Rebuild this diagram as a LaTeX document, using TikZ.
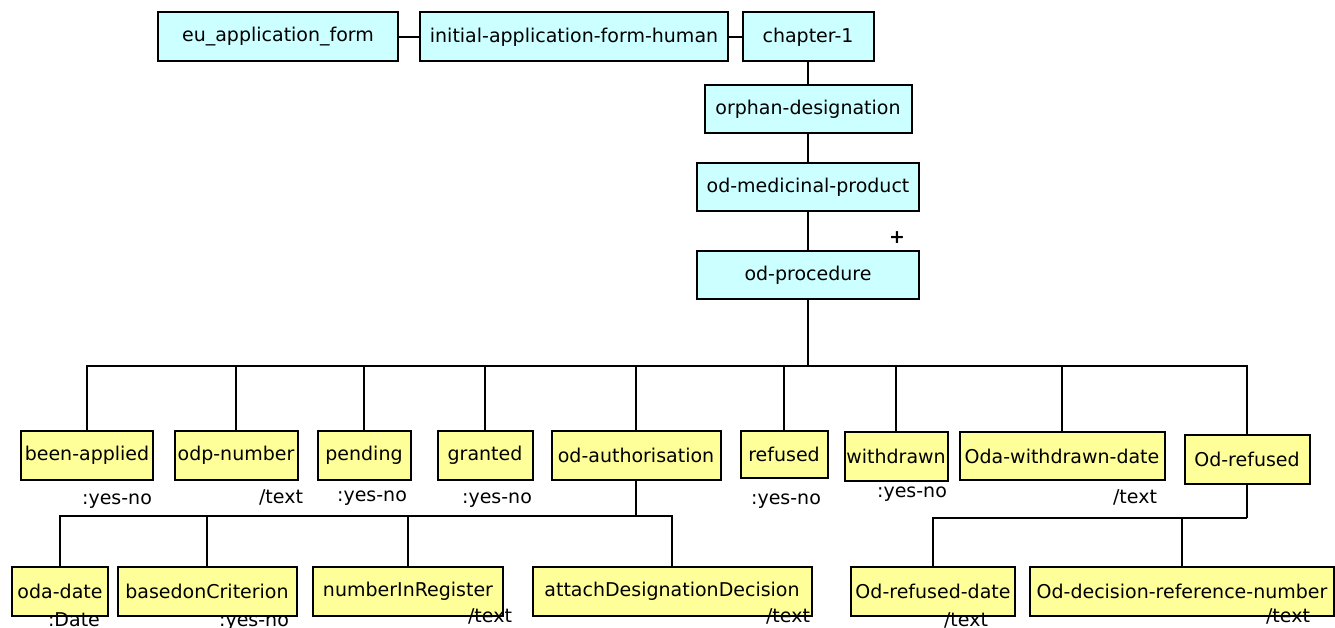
\documentclass[tikz,border=0pt]{standalone}
\usepackage{fontspec}
\setmainfont{DejaVu Sans}
\definecolor{boxcyan}{HTML}{CCFFFF}
\definecolor{boxyellow}{HTML}{FFFF99}
\begin{document}
\begin{tikzpicture}[x=1pt,y=-1pt,
  box/.style={draw=black, line width=2pt, inner sep=0pt, minimum height=49pt, font=\fontsize{19}{19}\selectfont, anchor=center},
  cbox/.style={box, fill=boxcyan},
  ybox/.style={box, fill=boxyellow},
  lab/.style={font=\fontsize{19}{19}\selectfont, inner sep=0pt, anchor=base},
  conn/.style={draw=black, line width=2pt},
  thick conn/.style={draw=black, line width=2.8pt}]
\useasboundingbox (0,0) rectangle (1335,628);
% top row
\node[cbox, minimum width=240pt] (eu) at (278,37) {eu\_application\_form};
\node[cbox, minimum width=308pt] (iafh) at (574,37) {initial-application-form-human};
\node[cbox, minimum width=131pt] (ch) at (808,37) {chapter-1};
\node[cbox, minimum width=207pt, minimum height=48pt] (orph) at (808,109) {orphan-designation};
\node[cbox, minimum width=222pt, minimum height=48pt] (odmp) at (808,187) {od-medicinal-product};
\node[cbox, minimum width=222pt, minimum height=48pt] (odp) at (808,275) {od-procedure};
\node[font=\fontsize{19}{19}\selectfont\bfseries, inner sep=0pt] (plus) at (897,238) {+};
\draw[conn] (eu) -- (iafh);
\draw[conn] (iafh) -- (ch);
\draw[conn] (ch.south) -- (ch.south |- orph.north);
\draw[conn] (orph.south) -- (orph.south |- odmp.north);
\draw[conn] (odmp.south) -- (odmp.south |- odp.north);
% first level children
\node[ybox, minimum width=132pt] (ba) at (87,455) {been-applied};
\node[ybox, minimum width=123pt] (odpn) at (236,455.5) {odp-number};
\node[ybox, minimum width=93pt] (pend) at (364,455.5) {pending};
\node[ybox, minimum width=95pt] (gran) at (485,455.5) {granted};
\node[ybox, minimum width=169pt] (odauth) at (636,455.5) {od-authorisation};
\node[ybox, minimum width=87pt, minimum height=47pt] (ref) at (784,454.5) {refused};
\node[ybox, minimum width=103pt] (wd) at (896,456.5) {withdrawn};
\node[ybox, minimum width=205pt, minimum height=48pt] (owd) at (1062,456) {Oda-withdrawn-date};
\node[ybox, minimum width=125pt] (odref) at (1247,459.5) {Od-refused};
\coordinate (bus) at (808,366);
\draw[thick conn] (odp.south) -- (bus);
\draw[conn] (ba.north) |- (bus) -| (odref.north);
\foreach \n in {odpn,pend,gran,odauth,ref,wd,owd}
  \draw[conn] (\n.north) -- (\n.north |- bus);
% labels first row
\node[lab] (l1) at (117,504) {:yes-no};
\node[lab] (l2) at (281,503) {/text};
\node[lab] (l3) at (372,501) {:yes-no};
\node[lab] (l4) at (497,503) {:yes-no};
\node[lab] (l5) at (786,504) {:yes-no};
\node[lab] (l6) at (912,497) {:yes-no};
\node[lab] (l7) at (1135,503) {/text};
% second level: od-authorisation
\node[ybox, minimum width=96pt] (odad) at (60,591.5) {oda-date};
\node[ybox, minimum width=179pt] (bc) at (207,591.5) {basedonCriterion};
\node[ybox, minimum width=190pt] (nir) at (408,591.5) {numberInRegister};
\node[ybox, minimum width=279pt] (add) at (672,591.5) {attachDesignationDecision};
\coordinate (bus2) at (636,516);
\draw[conn] (odauth.south) -- (bus2);
\draw[conn] (odad.north) |- (bus2) -| (add.north);
\foreach \n in {bc,nir}
  \draw[conn] (\n.north) -- (\n.north |- bus2);
% second level: Od-refused
\node[ybox, minimum width=164pt] (ordt) at (933,591.5) {Od-refused-date};
\node[ybox, minimum width=304pt] (odrn) at (1182,591.5) {Od-decision-reference-number};
\coordinate (bus3) at (1247,518);
\draw[conn] (odref.south) -- (bus3);
\draw[conn] (ordt.north) |- (bus3);
\draw[conn] (odrn.north) -- (odrn.north |- bus3);
% labels second row
\node[lab] (m1) at (74,626) {:Date};
\node[lab] (m2) at (254,626) {:yes-no};
\node[lab] (m3) at (490,622) {/text};
\node[lab] (m4) at (788,622) {/text};
\node[lab] (m5) at (966,626) {/text};
\node[lab] (m6) at (1288,622) {/text};
\end{tikzpicture}
\end{document}
